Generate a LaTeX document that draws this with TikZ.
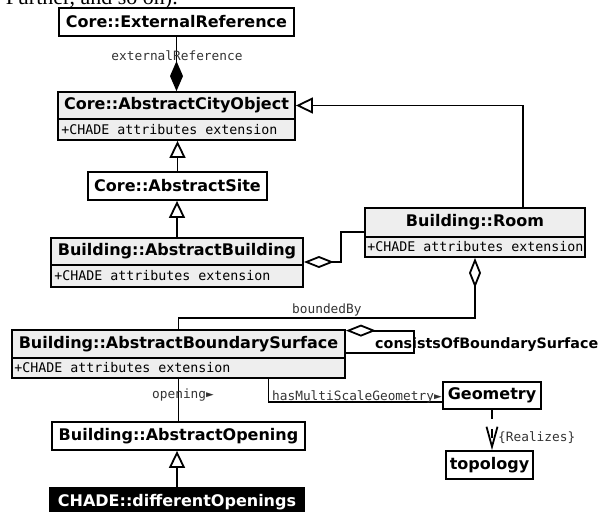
\documentclass[tikz,border=0pt]{standalone}
\usepackage{fontspec}
\setmainfont{DejaVu Sans}
\newfontfamily\monof{DejaVu Sans Mono}
\newfontfamily\capf{Liberation Serif}
\usetikzlibrary{arrows.meta}
\definecolor{boxgray}{HTML}{EEEEEE}
\definecolor{labgray}{HTML}{333333}
\tikzset{
  classname/.style={draw, line width=1.8pt, inner sep=0pt, fill=white,
    font=\fontsize{16}{18}\selectfont\bfseries, text=black},
  grayname/.style={classname, fill=boxgray},
  attrrow/.style={draw, line width=1.8pt, inner sep=0pt, fill=boxgray},
  attrtext/.style={anchor=west, inner sep=0pt, font=\monof\fontsize{13.3}{15}\selectfont},
  lab/.style={inner sep=1pt, text=labgray, font=\monof\fontsize{12.8}{14}\selectfont},
  conn/.style={line width=1.8pt, draw=black},
  gen/.style={conn, -{Triangle[open, length=17pt, width=16pt]}},
  comp/.style={conn, -{Diamond[length=30pt, width=13pt]}},
  aggend/.style={conn, -{Diamond[open, length=30pt, width=12pt]}},
  aggstart/.style={conn, {Diamond[open, length=30pt, width=12pt]}-},
  realize/.style={conn, dash pattern=on 9pt off 10pt, -{Straight Barb[length=20pt, width=11pt]}}
}
\begin{document}
\begin{tikzpicture}[x=1pt, y=-1pt]
\useasboundingbox (0,0) rectangle (599,511);
% cropped caption text at the top
\node[anchor=base east, inner sep=0pt, font=\capf\fontsize{22}{24}\selectfont] (cap) at (178,5) {Further, and so on).};

% classes
\node[classname, minimum width=235pt, minimum height=28pt] (extref) at (176.5,22) {Core::ExternalReference};

\node[grayname, minimum width=237pt, minimum height=27pt] (city) at (176.5,105.5) {Core::AbstractCityObject};
\node[attrrow, minimum width=237pt, minimum height=21pt] (cityattr) at (176.5,129.5) {};
\node[attrtext] (cityattrt) at ([xshift=4pt]cityattr.west) {+CHADE attributes extension};

\node[classname, minimum width=179pt, minimum height=28pt] (site) at (177.5,186) {Core::AbstractSite};

\node[grayname, minimum width=252pt, minimum height=27pt] (abuild) at (177,251.5) {Building::AbstractBuilding};
\node[attrrow, minimum width=252pt, minimum height=22pt] (abuildattr) at (177,276) {};
\node[attrtext] (abuildattrt) at ([xshift=4pt]abuildattr.west) {+CHADE attributes extension};

\node[grayname, minimum width=220pt, minimum height=29pt] (room) at (475,222.5) {Building::Room};
\node[attrrow, minimum width=220pt, minimum height=20pt] (roomattr) at (475,247) {};
\node[attrtext] (roomattrt) at ([xshift=3pt]roomattr.west) {+CHADE attributes extension};

\node[grayname, minimum width=333pt, minimum height=28pt] (bsurf) at (178.5,344) {Building::AbstractBoundarySurface};
\node[attrrow, minimum width=333pt, minimum height=20pt] (bsurfattr) at (178.5,368) {};
\node[attrtext] (bsurfattrt) at ([xshift=3pt]bsurfattr.west) {+CHADE attributes extension};

\node[classname, minimum width=98pt, minimum height=27pt] (geom) at (492,395.5) {Geometry};
\node[classname, minimum width=87pt, minimum height=28pt] (topo) at (489.5,465) {topology};

\node[classname, minimum width=253pt, minimum height=28pt] (aopen) at (178.5,436) {Building::AbstractOpening};
\node[classname, fill=black, text=white, minimum width=254pt, minimum height=28pt] (diffopen) at (177,502) {CHADE::differentOpenings};

% connectors
\draw[comp] (extref.south) -- (city.north);
\node[lab, anchor=base] (extlab) at (177,60) {externalReference};

\draw[gen] (site.north) -- (site.north |- cityattr.south);
\draw[gen] (abuild.north) -- (abuild.north |- site.south);
\draw[gen] ([xshift=48pt]room.north) |- (city.east);

\draw[aggend] ([yshift=-9.5pt]room.west) -- ++(-23,0) |- ([yshift=-10.5pt]abuild.east);

\draw[aggstart] (roomattr.south) -- ++(0,60) -| (bsurf.north);
\node[lab, anchor=base west] (bndlab) at (291,313) {boundedBy};

\draw[aggstart] ([yshift=-1.5pt]bsurf.north east) -- ++(68,0) |- ([yshift=-9pt]bsurf.east);
\node[anchor=base west, inner sep=0pt, font=\fontsize{14.3}{16}\selectfont\bfseries] (conslab) at (375,348) {consistsOfBoundarySurface};

\draw[conn] ([xshift=90pt]bsurfattr.south) |- ([yshift=-6.5pt]geom.west);
\node[lab, anchor=base west] (hmsg) at (271,400) {hasMultiScaleGeometry►};

\draw[conn] (bsurfattr.south) -- (bsurfattr.south |- aopen.north);
\node[lab, anchor=base west] (openlab) at (151,398) {opening►};

\draw[gen] (diffopen.north) -- (diffopen.north |- aopen.south);

\draw[realize] (geom.south) -- (geom.south |- topo.north);
\node[lab, anchor=base west] (reallab) at (497,441) {\{Realizes\}};
\end{tikzpicture}
\end{document}
